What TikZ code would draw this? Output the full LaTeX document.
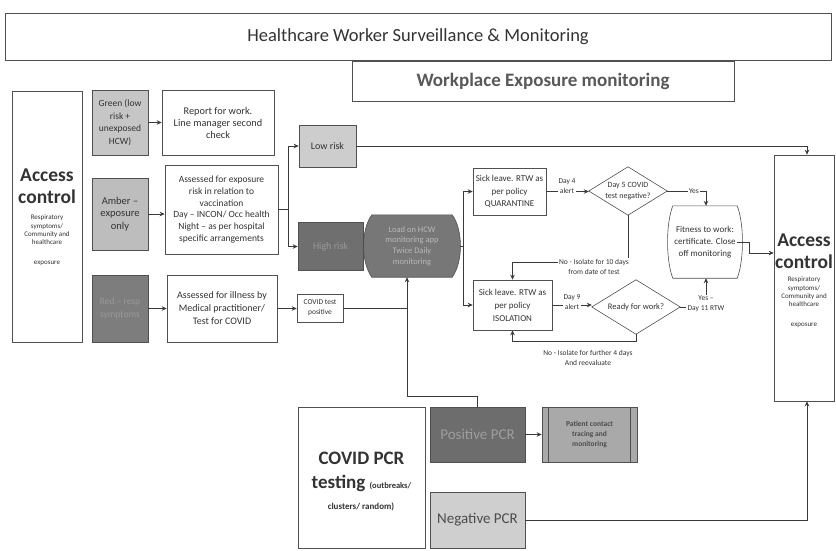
\documentclass[tikz,border=0pt]{standalone}
\usepackage{fontspec}
\setmainfont{Carlito}
\usetikzlibrary{arrows.meta,backgrounds,calc}
\definecolor{txt}{HTML}{333333}
\definecolor{bord}{HTML}{505050}
\definecolor{linec}{HTML}{3A3A3A}
\definecolor{greenf}{HTML}{C6C6C6}
\definecolor{amberf}{HTML}{BDBDBD}
\definecolor{redf}{HTML}{7D7D7D}
\definecolor{lowf}{HTML}{CDCDCD}
\definecolor{highf}{HTML}{6F6F6F}
\definecolor{appf}{HTML}{777777}
\definecolor{posf}{HTML}{6D6D6D}
\definecolor{patf}{HTML}{A9A9A9}
\definecolor{negf}{HTML}{CFCFCF}
\definecolor{darktxt}{HTML}{999999}
\newcommand\fs[2]{\fontsize{#1}{#2}\selectfont}
\begin{document}
\begin{tikzpicture}[x=1pt,y=-1pt,
  box/.style={draw=bord, line width=0.6pt, fill=white, text=txt, align=center, inner sep=1pt},
  lbl/.style={text=txt, align=center, inner sep=1pt},
  conn/.style={draw=linec, line width=0.8pt},
  arr/.style={conn, -{Stealth[length=5pt,width=4.5pt]}},
  sz/.style n args={2}{minimum width=#1, minimum height=#2},
]
\useasboundingbox (0,0) rectangle (836,550);

% headers
\node[box, sz={826pt}{47pt}, font=\fs{18.5}{21}] (banner) at (418,36.5) {Healthcare Worker Surveillance \& Monitoring};
\node[box, sz={382pt}{40pt}, font=\fs{19}{22}\bfseries, text=black!65] (work) at (543,81) {Workplace Exposure monitoring};

% left access control
\node[box, sz={70pt}{251pt}] (accL) at (47,216.5) {};
\node[lbl, font=\fs{19.5}{22}\bfseries] (accLt) at (47,186) {Access\\control};
\node[lbl, font=\fs{7}{8.3}] (accLs) at (47,230) {Respiratory\\symptoms/\\Community and\\healthcare};
\node[lbl, font=\fs{7}{8.3}] (accLe) at (47,263) {exposure};

% triage column
\node[box, fill=greenf, sz={56pt}{65pt}, font=\fs{9.5}{12.5}] (green) at (120,122.5) {Green (low\\risk +\\unexposed\\HCW)};
\node[box, sz={112pt}{65pt}, font=\fs{10.3}{12}] (report) at (218,122.5) {Report for work.\\Line manager second\\check};
\node[box, fill=amberf, sz={56pt}{72pt}, font=\fs{10.5}{12.5}] (amber) at (120,214) {Amber --\\exposure\\only};
\node[box, sz={113pt}{89pt}, font=\fs{9.5}{11.8}] (assessE) at (221.5,209.5) {Assessed for exposure\\risk in relation to\\vaccination\\Day -- INCON/ Occ health\\Night -- as per hospital\\specific arrangements};
\node[box, fill=redf, sz={56pt}{67pt}, font=\fs{9.5}{12.5}, text=darktxt] (red) at (120,308.5) {Red -- resp\\symptoms};
\node[box, sz={110pt}{67pt}, font=\fs{10}{13}] (illness) at (222,308.5) {Assessed for illness by\\Medical practitioner/\\Test for COVID};
\node[box, sz={46pt}{28pt}, font=\fs{7.5}{10}] (covpos) at (320,308) {COVID test\\positive};

% risk
\node[box, fill=lowf, sz={57pt}{42pt}, font=\fs{10}{12}] (lowrisk) at (327.5,146) {Low risk};
\node[box, fill=highf, sz={65pt}{48pt}, font=\fs{10}{12}, text=darktxt] (highrisk) at (330.5,246.5) {High risk};

% app (barrel shape)
\node[lbl, sz={80pt}{62pt}, font=\fs{8.5}{10.8}, text=black!28] (app) at (412,246) {Load on HCW\\monitoring app\\Twice Daily\\monitoring};
\begin{scope}[on background layer]
\draw[draw=bord, line width=0.6pt, fill=appf] (app.north west) -- (app.north east)
  .. controls ([xshift=11pt,yshift=-15pt]app.north east) and ([xshift=11pt,yshift=15pt]app.south east) .. (app.south east)
  -- (app.south west)
  .. controls ([xshift=-11pt,yshift=15pt]app.south west) and ([xshift=-11pt,yshift=-15pt]app.north west) .. cycle;
\end{scope}

% sick leave
\node[box, sz={73pt}{47pt}, font=\fs{9}{12.2}] (quar) at (509.5,191.5) {Sick leave. RTW as\\per policy\\QUARANTINE};
\node[box, sz={79pt}{50pt}, font=\fs{9}{13}] (iso) at (512.5,305) {Sick leave. RTW as\\per policy\\ISOLATION};

% diamonds
\node[lbl, sz={78pt}{48pt}, font=\fs{8}{11}] (d1) at (628,191) {Day 5 COVID\\test negative?};
\draw[draw=bord, line width=0.6pt] (d1.north) -- (d1.east) -- (d1.south) -- (d1.west) -- cycle;
\node[lbl, sz={88pt}{54pt}, font=\fs{8.5}{11}] (d2) at (636,307) {Ready for work?};
\draw[draw=bord, line width=0.6pt] (d2.north) -- (d2.east) -- (d2.south) -- (d2.west) -- cycle;

% fitness
\node[lbl, sz={64pt}{72pt}, font=\fs{9}{12}] (fit) at (705,242) {Fitness to work:\\certificate. Close\\off monitoring};
\begin{scope}[on background layer]
\draw[draw=bord, line width=0.6pt, fill=white] (fit.north west) -- (fit.north east)
  .. controls ([xshift=7pt,yshift=-18pt]fit.north east) and ([xshift=7pt,yshift=18pt]fit.south east) .. (fit.south east)
  -- (fit.south west)
  .. controls ([xshift=-7pt,yshift=18pt]fit.south west) and ([xshift=-7pt,yshift=-18pt]fit.north west) .. cycle;
\end{scope}

% right access control
\node[box, sz={60pt}{246pt}] (accR) at (804,278) {};
\node[lbl, font=\fs{19.5}{22}\bfseries] (accRt) at (804,251) {Access\\control};
\node[lbl, font=\fs{7}{8.3}] (accRs) at (804,292) {Respiratory\\symptoms/\\Community and\\healthcare};
\node[lbl, font=\fs{7}{8.3}] (accRe) at (804,325) {exposure};

% PCR testing
\node[box, sz={127pt}{141pt}] (pcr) at (361.5,477.5) {};
\node[lbl, font=\fs{19}{22}\bfseries] (pcr1) at (361.5,458) {COVID PCR};
\node[lbl, font=\fs{19}{22}\bfseries, anchor=base] (pcr2) at (361.5,488) {testing {\fs{8.5}{10}(outbreaks/}};
\node[lbl, font=\fs{9}{11}\bfseries] (pcr3) at (361,507) {clusters/ random)};
\node[box, fill=posf, sz={95pt}{55pt}, font=\fs{15}{18}, text=black!38] (pos) at (477.5,434.5) {Positive PCR};
\node[box, fill=patf, sz={95pt}{55pt}, font=\fs{7.5}{10}\bfseries, text=black!70] (pat) at (589.5,434.5) {Patient contact\\tracing and\\monitoring};
\draw[draw=bord, line width=0.5pt] ([xshift=7pt]pat.north west) -- ([xshift=7pt]pat.south west)
  ([xshift=-7pt]pat.north east) -- ([xshift=-7pt]pat.south east);
\node[box, fill=negf, sz={95pt}{56pt}, font=\fs{15}{18}, text=black!70] (neg) at (477.5,520) {Negative PCR};

% connectors: left column
\draw[arr] (green.east) -- (report.west);
\draw[arr] (amber.east) -- (amber.east -| assessE.west);
\draw[arr] (red.east) -- (red.east -| illness.west);
\coordinate (s1) at (288,209.5);
\draw[conn] (assessE.east) -- (s1);
\draw[arr] (s1) |- (lowrisk.west);
\draw[arr] (s1) |- (highrisk.west);
\draw[arr] (illness.east) -- (illness.east -| covpos.west);

% to app
\coordinate (j2) at (407,396);
\draw[conn] (covpos.east) -- (covpos.east -| j2);
\draw[arr] (pos.north) |- (j2) -- (j2 |- app.south);
\draw[conn] (highrisk.east) -- ([xshift=-8pt]app.west);

% app to sick leave
\coordinate (s2) at (463,246);
\draw[conn] ([xshift=8pt]app.east) -- (s2);
\draw[arr] (s2) |- (quar.west);
\draw[arr] (s2) |- (iso.west);

% quarantine path
\draw[arr] (quar.east) -- (quar.east -| d1.west);
\node[lbl, fill=white, font=\fs{7.5}{9.5}] (day4) at (567,186) {Day 4\\alert};
\draw[conn] (d1.east) -- (706,191);
\node[lbl, fill=white, font=\fs{7.5}{9}] (yes1) at (694,191) {Yes};
\draw[arr] (706,191) -- (fit.north -| 706,0);
\node[lbl, font=\fs{7.5}{10}] (no1) at (594,267) {No - Isolate for 10 days\\from date of test};
\draw[conn] (d1.south) -- (d1.south |- no1.north);
\draw[arr] ([yshift=5pt]no1.west) -| (iso.north);

% isolation path
\draw[arr] (iso.east) -- (iso.east -| d2.west);
\node[lbl, fill=white, font=\fs{7.5}{9.5}] (day9) at (572,302) {Day 9\\alert};
\coordinate (b2) at (636,341);
\draw[arr] (d2.south) -- (b2) -| (iso.south);
\node[lbl, font=\fs{7.5}{10}] (no2) at (588,358) {No - Isolate for further 4 days\\And reevaluate};
\node[lbl, font=\fs{7.5}{10}] (yes2) at (706,304) {Yes --\\Day 11 RTW};
\draw[conn] (d2.east) -- (yes2.west |- d2.east);
\draw[arr] (yes2.north) -- (fit.south -| yes2.north);

% to right access control
\draw[arr] (fit.east) -- ++(12,0) |- ([yshift=25pt]accR.west);
\draw[arr] (lowrisk.east) -| ([xshift=3pt]accR.north);
\draw[arr] (neg.east) -| ([xshift=3pt]accR.south);
\draw[arr] (pos.east) -- (pat.west);
\end{tikzpicture}
\end{document}
